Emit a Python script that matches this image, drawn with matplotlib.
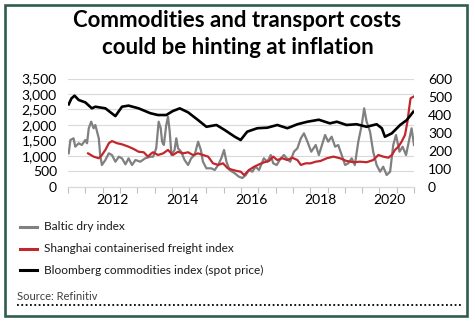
import matplotlib
matplotlib.use("Agg")
import matplotlib.pyplot as plt
from matplotlib.patches import Rectangle
from matplotlib.lines import Line2D

plt.rcParams['font.family'] = ['Lato', 'DejaVu Sans']

# Baltic dry index (left axis)
baltic_t = [2011.02, 2011.07, 2011.16, 2011.21, 2011.31, 2011.40, 2011.50, 2011.55, 2011.60, 2011.67,
            2011.74, 2011.79, 2011.84, 2011.89, 2011.93, 2011.98, 2012.08, 2012.18, 2012.27, 2012.37,
            2012.47, 2012.56, 2012.66, 2012.75, 2012.85, 2012.95, 2013.09, 2013.23, 2013.38, 2013.46,
            2013.55, 2013.62, 2013.68, 2013.72, 2013.77, 2013.84, 2013.89, 2013.94, 2013.99, 2014.08,
            2014.13, 2014.18, 2014.27, 2014.37, 2014.47, 2014.56, 2014.66, 2014.76, 2014.84, 2014.90,
            2015.00, 2015.14, 2015.24, 2015.34, 2015.43, 2015.51, 2015.58, 2015.67, 2015.82, 2015.94,
            2016.04, 2016.14, 2016.23, 2016.33, 2016.42, 2016.52, 2016.66, 2016.76, 2016.86, 2016.93,
            2017.03, 2017.15, 2017.24, 2017.32, 2017.42, 2017.53, 2017.63, 2017.73, 2017.82, 2017.92,
            2018.03, 2018.16, 2018.25, 2018.43, 2018.52, 2018.62, 2018.72, 2018.81, 2018.91, 2019.01,
            2019.10, 2019.20, 2019.29, 2019.39, 2019.49, 2019.56, 2019.63, 2019.73, 2019.82, 2019.92,
            2020.02, 2020.11, 2020.21, 2020.31, 2020.40, 2020.48, 2020.58, 2020.67, 2020.77, 2020.86,
            2020.93, 2021.00]
baltic_v = [1087, 1516, 1571, 1300, 1410, 1355, 1516, 1410, 1893, 2107,
            1893, 2000, 1784, 1571, 1032, 709, 871, 1087, 1032, 816,
            977, 925, 732, 925, 709, 871, 816, 925, 977, 977,
            1249, 2107, 1893, 1462, 1355, 2000, 2268, 1784, 1032, 1194,
            1571, 1249, 1139, 871, 709, 925, 1032, 1462, 1194, 816,
            603, 603, 548, 709, 925, 1194, 816, 548, 441, 332,
            290, 387, 548, 494, 655, 548, 925, 816, 1032, 764,
            709, 925, 1032, 925, 816, 1139, 1249, 1571, 1732, 1462,
            1139, 1355, 1032, 1677, 1462, 1623, 1300, 1355, 1032, 709,
            764, 925, 709, 1462, 2000, 2538, 2107, 1784, 1139, 709,
            494, 655, 387, 494, 1355, 1677, 1139, 1300, 1032, 1516,
            1893, 1355]

# Shanghai containerised freight index (right axis)
shanghai_t = [2011.58, 2011.74, 2011.89, 2011.98, 2012.08, 2012.18, 2012.27, 2012.42, 2012.56, 2012.75,
              2012.90, 2013.04, 2013.19, 2013.31, 2013.41, 2013.46, 2013.60, 2013.75, 2013.89, 2014.03,
              2014.18, 2014.32, 2014.47, 2014.61, 2014.76, 2014.90, 2015.05, 2015.19, 2015.34, 2015.48,
              2015.62, 2015.77, 2015.89, 2015.99, 2016.09, 2016.23, 2016.38, 2016.52, 2016.66, 2016.81,
              2016.93, 2017.05, 2017.19, 2017.34, 2017.48, 2017.63, 2017.73, 2017.87, 2018.01, 2018.16,
              2018.30, 2018.48, 2018.67, 2018.86, 2019.05, 2019.25, 2019.44, 2019.63, 2019.82, 2019.97,
              2020.11, 2020.26, 2020.36, 2020.45, 2020.55, 2020.64, 2020.74, 2020.81, 2020.86, 2020.90,
              2020.98]
shanghai_v = [186, 168, 159, 177, 205, 242, 254, 242, 236, 223,
              210, 195, 192, 168, 186, 192, 177, 186, 205, 177,
              195, 186, 192, 177, 186, 177, 168, 131, 122, 131,
              103, 94, 88, 85, 66, 94, 112, 125, 136, 144,
              168, 149, 159, 149, 162, 149, 122, 131, 131, 140,
              144, 159, 168, 159, 144, 137, 140, 137, 149, 177,
              168, 162, 177, 205, 223, 250, 288, 361, 435, 490,
              499]

# Bloomberg commodities index, spot (right axis)
bloomberg_t = [2011.02, 2011.10, 2011.19, 2011.31, 2011.50, 2011.69, 2011.79, 2012.08, 2012.37, 2012.56,
               2012.75, 2013.04, 2013.38, 2013.60, 2013.84, 2014.03, 2014.23, 2014.47, 2014.76, 2015.00,
               2015.29, 2015.53, 2015.82, 2015.99, 2016.18, 2016.47, 2016.76, 2017.05, 2017.34, 2017.63,
               2017.92, 2018.25, 2018.57, 2018.77, 2019.05, 2019.34, 2019.63, 2019.92, 2020.07, 2020.16,
               2020.36, 2020.60, 2020.79, 2020.98]
bloomberg_v = [457, 490, 505, 481, 468, 435, 444, 435, 392, 444,
               450, 435, 408, 398, 398, 420, 435, 413, 370, 333,
               343, 315, 278, 260, 306, 325, 328, 343, 325, 347,
               361, 372, 352, 361, 343, 347, 333, 347, 325, 278,
               297, 343, 370, 416]

left_ticks = [0, 500, 1000, 1500, 2000, 2500, 3000, 3500]
right_ticks = [0, 100, 200, 300, 400, 500, 600]
year_labels = [2012, 2014, 2016, 2018, 2020]
legend_labels = ['Baltic dry index',
                 'Shanghai containerised freight index',
                 'Bloomberg commodities index (spot price)']

grey = '#808080'
red = '#c1272d'
frame = '#2f5d50'

fig = plt.figure(figsize=(4.75, 3.21), dpi=100)
fig.patch.set_facecolor('white')

# outer frame
fig.patches.append(Rectangle((4.5 / 475, 5 / 321), 462 / 475, 311 / 321, transform=fig.transFigure,
                             fill=False, edgecolor=frame, linewidth=1.9, zorder=0))

fig.text(0.5, 0.935, 'Commodities and transport costs', ha='center', va='center',
         fontsize=16, fontweight='bold', color='black')
fig.text(0.5, 0.852, 'could be hinting at inflation', ha='center', va='center',
         fontsize=16, fontweight='bold', color='black')

ax = fig.add_axes([68 / 475, 1 - 187 / 321, 346 / 475, 108.5 / 321])
ax2 = ax.twinx()

ax.plot(baltic_t, baltic_v, color=grey, lw=1.6, zorder=2)
ax2.plot(shanghai_t, shanghai_v, color=red, lw=1.6, zorder=3)
ax2.plot(bloomberg_t, bloomberg_v, color='black', lw=1.9, zorder=4)

ax.set_xlim(2011, 2021)
ax.set_ylim(0, 3500)
ax2.set_ylim(0, 600)
ax.set_yticks(left_ticks)
ax.set_yticklabels(['{:,}'.format(v) for v in left_ticks])
ax2.set_yticks(right_ticks)
ax.yaxis.grid(True, color='#d9d9d9', lw=0.8)
ax.set_axisbelow(True)

ax.set_xticks([y + 0.3 for y in year_labels])
ax.set_xticklabels([str(y) for y in year_labels])
ax.set_xticks([2011 + 0.5 * k for k in range(21)], minor=True)
ax.tick_params(axis='x', which='major', length=0, pad=5, labelsize=10)
ax.tick_params(axis='x', which='minor', length=4, color='#bfbfbf', width=0.8)
ax.tick_params(axis='y', length=0, labelsize=10, pad=8)
ax2.tick_params(axis='y', length=0, labelsize=10, pad=10)

for a in (ax, ax2):
    for s in ('top', 'left', 'right'):
        a.spines[s].set_visible(False)
    a.spines['bottom'].set_color('#d9d9d9')

# legend, drawn by hand below the plot
for col, label, yp in zip([grey, red, 'black'], legend_labels, [226.5, 248.5, 270]):
    y = 1 - yp / 321
    fig.add_artist(Line2D([20 / 475, 37 / 475], [y, y], color=col, lw=2.2, transform=fig.transFigure))
    fig.text(44 / 475, y, label, ha='left', va='center', fontsize=8.6, color='#1a1a1a')

fig.text(17 / 475, 1 - 296 / 321, 'Source: Refinitiv', ha='left', va='center', fontsize=8,
         color='#404040')
fig.add_artist(Line2D([17 / 475, 461 / 475], [1 - 305 / 321] * 2, color='black', lw=1.3,
                      linestyle=(0, (1, 1.4)), transform=fig.transFigure))

fig.savefig('out.png', dpi=100, facecolor='white')
